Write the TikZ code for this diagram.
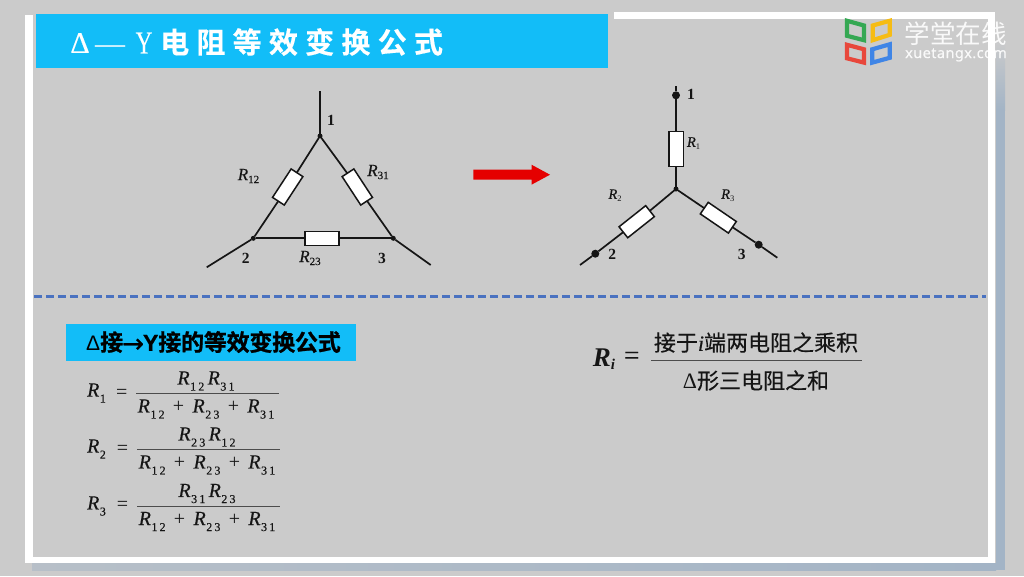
\documentclass[tikz,border=0pt]{standalone}
\usepackage{fontspec}
\setmainfont{Liberation Serif}
\newfontfamily\cjk{Noto Sans CJK SC}
\newfontfamily\cjkspace[LetterSpace=25,FakeBold=0.4]{Noto Sans CJK SC Bold}
\newfontfamily\cjkheavy[LetterSpace=-1,FakeBold=1]{Noto Sans CJK SC Bold}
\newfontfamily\cjkmid[FakeBold=0.25]{Noto Sans CJK SC}
\newfontfamily\sanslogo[LetterSpace=3,FakeBold=0.3]{Noto Sans}
\newfontfamily\sansheavy[FakeBold=1]{Liberation Sans Bold}
\newfontfamily\sansreg{Liberation Sans}
\newfontfamily\serifmid[FakeBold=0.3]{Liberation Serif}
\newfontfamily\arrowfont[FakeBold=0.4]{DejaVu Sans}
\newcommand{\fs}[1]{\fontsize{#1}{#1}\selectfont}
\newcommand{\RR}[2]{{\serifmid\itshape R}\kern0.5pt\raisebox{-0.3em}{\fontsize{12}{12}\serifmid\addfontfeature{LetterSpace=18}#2}}
\newcommand{\Ra}[2]{{\fontsize{17}{17}\serifmid\itshape R}\raisebox{-0.3em}{\fontsize{11}{11}\serifmid #2}}
\newcommand{\Rb}[2]{{\fontsize{14.5}{14.5}\serifmid\itshape R}\raisebox{-0.3em}{\fontsize{8.5}{8.5}\selectfont #2}}
\definecolor{bgc}{HTML}{CBCBCB}
\definecolor{barc}{HTML}{12BDF8}
\definecolor{dashc}{HTML}{4A72C0}
\definecolor{shadowc}{HTML}{A3B4C6}
\definecolor{inkc}{HTML}{151515}
\definecolor{lgreen}{HTML}{35A853}
\definecolor{lyellow}{HTML}{F6BC14}
\definecolor{lred}{HTML}{E8473B}
\definecolor{lblue}{HTML}{3F85E6}
\tikzset{
  wire/.style={draw=inkc,line width=1.7pt},
  res/.style={draw=inkc,fill=white,line width=1.5pt,minimum width=34pt,minimum height=14pt,inner sep=0pt,outer sep=0pt},
  jdot/.style={circle,fill=inkc,inner sep=0pt,minimum size=5pt,outer sep=0pt},
  tdot/.style={circle,fill=inkc,inner sep=0pt,minimum size=8pt,outer sep=0pt},
  num/.style={font=\bfseries\fs{15.5},text=inkc,inner sep=0pt},
  lab/.style={text=inkc,inner sep=0pt},
  frm/.style={text=inkc,inner sep=0pt,font=\fs{20}},
  bar/.style={draw=inkc!70!bgc,line width=1.2pt},
  frame/.style={fill=white,draw=none},
  logo/.style={line width=4.2pt,fill=none,line join=miter}
}
\begin{document}
\begin{tikzpicture}[x=1pt,y=-1pt]
\useasboundingbox (0,0) rectangle (1024,576);
\fill[bgc] (0,0) rectangle (1024,576);
% frame shadow and frame
\shade[top color=bgc,bottom color=shadowc] (996,40) rectangle (1005,110);
\fill[shadowc] (996,110) rectangle (1005,570);
\shade[left color=bgc!50!shadowc,right color=shadowc] (32,563) rectangle (996,570);
\fill[frame] (25,15) rectangle (32.5,563);
\fill[frame] (25,557) rectangle (995,563);
\fill[frame] (988,12) rectangle (995,563);
\fill[frame] (614,12) rectangle (995,19);
% title
\fill[barc] (36,14) rectangle (608,68);
\node[text=white,inner sep=0pt,font=\serifmid\fs{30}] (tdelta) at (80,43) {Δ};
\node[text=white,inner sep=0pt,font=\fs{30}] (tdash) at (110,50) {—};
\node[text=white,inner sep=0pt,font=\serifmid\fs{32},xscale=0.72] (ty) at (144,43) {Y};
\node[text=white,inner sep=0pt,anchor=west,font=\cjkspace\fs{29}] (ttext) at (160,42) {电阻等效变换公式};
% logo
\draw[logo,draw=lgreen] (847,20.8) -- (864,25.5) -- (864,40.2) -- (847,35.8) -- cycle;
\draw[logo,draw=lyellow] (872.7,25.5) -- (889.7,20.8) -- (889.7,34.8) -- (872.7,40.2) -- cycle;
\draw[logo,draw=lred] (847,44.8) -- (864,49.3) -- (864,62.6) -- (847,58.3) -- cycle;
\draw[logo,draw=lblue] (872.3,49.3) -- (889.7,44.3) -- (889.7,57.8) -- (872.3,62.6) -- cycle;
\node[text=white,opacity=0.9,inner sep=0pt,font=\cjk\fs{25.5}] (lg1) at (955.5,34) {学堂在线};
\node[text=white,opacity=0.9,inner sep=0pt,font=\sanslogo\fs{14.5}] (lg2) at (956,55) {xuetangx.com};
% delta circuit
\node[res,rotate=56.8] (r12) at (287.7,187) {};
\node[res,rotate=-56.8] (r31) at (357.3,187) {};
\node[res] (r23) at (322,238.3) {};
\node[jdot] (a1) at (320,136) {};
\node[jdot] (a2) at (253.3,238.3) {};
\node[jdot] (a3) at (393.3,238.3) {};
\coordinate (e1) at (320,91);
\coordinate (e2) at (206.7,267.3);
\coordinate (e3) at (430.7,265);
\draw[wire] (e1) -- (a1);
\draw[wire] (e2) -- (a2);
\draw[wire] (e3) -- (a3);
\draw[wire] (a1) -- (r12);
\draw[wire] (r12) -- (a2);
\draw[wire] (a1) -- (r31);
\draw[wire] (r31) -- (a3);
\draw[wire] (a2) -- (r23);
\draw[wire] (r23) -- (a3);
\node[lab] (l12) at (248.5,176) {\Ra{R}{12}};
\node[lab] (l31) at (378,172) {\Ra{R}{31}};
\node[lab] (l23) at (310,258) {\Ra{R}{23}};
\node[num] (n1a) at (331,120) {1};
\node[num] (n2a) at (245.7,258) {2};
\node[num] (n3a) at (382,258) {3};
% arrow
\fill[red!90!black] (473.3,169.5) -- (531.5,169.5) -- (531.5,164.7) -- (550,174.7) -- (531.5,184.7) -- (531.5,179.5) -- (473.3,179.5) -- cycle;
% star circuit
\node[jdot] (c0) at (676,189) {};
\node[tdot] (t1) at (676,95.3) {};
\node[tdot] (t2) at (595.3,253.7) {};
\node[tdot] (t3) at (758.7,244.7) {};
\coordinate (f1) at (676,86);
\coordinate (f2) at (580,265);
\coordinate (f3) at (777.3,257.7);
\node[res,rotate=90,minimum width=35pt,minimum height=14.5pt] (s1) at (676,149) {};
\node[res,rotate=38.4] (s2) at (636.7,221.7) {};
\node[res,rotate=-34.3] (s3) at (718.3,217.7) {};
\draw[wire] (f1) -- (t1);
\draw[wire] (t1) -- (s1);
\draw[wire] (s1) -- (c0);
\draw[wire] (f2) -- (t2);
\draw[wire] (t2) -- (s2);
\draw[wire] (s2) -- (c0);
\draw[wire] (f3) -- (t3);
\draw[wire] (t3) -- (s3);
\draw[wire] (s3) -- (c0);
\node[lab] (ls1) at (693.5,143.5) {\Rb{R}{1}};
\node[lab] (ls2) at (615,195.7) {\Rb{R}{2}};
\node[lab] (ls3) at (727.7,195.7) {\Rb{R}{3}};
\node[num] (n1b) at (691,94) {1};
\node[num] (n2b) at (612.3,254.7) {2};
\node[num] (n3b) at (741.7,254) {3};
% divider
\coordinate (d1) at (34,296);
\coordinate (d2) at (986,296);
\draw[dashc,line width=3pt,dash pattern=on 8pt off 4pt] (d1) -- (d2);
% subtitle
\fill[barc] (66,323.5) rectangle (356,361);
\node[text=black,inner sep=0pt,font=\fs{23}] (st) at (213.5,342) {{\sansreg\fs{21}Δ}{\cjkheavy 接}\kern-1pt{\arrowfont\fs{26}\raisebox{-0.06em}{→}}\kern-1pt{\sansheavy Y}{\cjkheavy 接的等效变换公式}};
% formulas
\node[frm] (p1) at (96.5,393) {\RR{R}{1}};
\node[frm] (q1) at (121.7,393.5) {=};
\coordinate (b1l) at (136,393.7);
\coordinate (b1r) at (279,393.7);
\draw[bar] (b1l) -- (b1r);
\node[frm] (u1) at (206,381) {\RR{R}{12}\,\RR{R}{31}};
\node[frm] (v1) at (206,409) {\RR{R}{12} \,+\, \RR{R}{23} \,+\, \RR{R}{31}};
\node[frm] (p2) at (96.5,449) {\RR{R}{2}};
\node[frm] (q2) at (122.5,449.5) {=};
\coordinate (b2l) at (137,449.7);
\coordinate (b2r) at (280,449.7);
\draw[bar] (b2l) -- (b2r);
\node[frm] (u2) at (207,437) {\RR{R}{23}\,\RR{R}{12}};
\node[frm] (v2) at (207,465) {\RR{R}{12} \,+\, \RR{R}{23} \,+\, \RR{R}{31}};
\node[frm] (p3) at (96.5,506) {\RR{R}{3}};
\node[frm] (q3) at (122.5,506) {=};
\coordinate (b3l) at (137,506.4);
\coordinate (b3r) at (280,506.4);
\draw[bar] (b3l) -- (b3r);
\node[frm] (u3) at (207,493.5) {\RR{R}{31}\,\RR{R}{23}};
\node[frm] (v3) at (207,521.5) {\RR{R}{12} \,+\, \RR{R}{23} \,+\, \RR{R}{31}};
% Ri formula
\node[text=inkc,inner sep=0pt] (ri) at (604,359) {{\fs{27}\bfseries\itshape R}\raisebox{-0.35em}{\fs{15}\bfseries\itshape i}};
\node[text=inkc,inner sep=0pt,font=\serifmid\fs{27}] (rq) at (631.7,358) {=};
\coordinate (bil) at (651,360.7);
\coordinate (bir) at (862.3,360.7);
\draw[bar] (bil) -- (bir);
\node[text=inkc,inner sep=0pt,font=\cjkmid\fs{22}] (rn) at (756,342.5) {接于{\serifmid\itshape i}端两电阻之乘积};
\node[text=inkc,inner sep=0pt,font=\cjkmid\fs{22}] (rd) at (756,380.5) {{\rmfamily Δ}形三电阻之和};
\end{tikzpicture}
\end{document}
